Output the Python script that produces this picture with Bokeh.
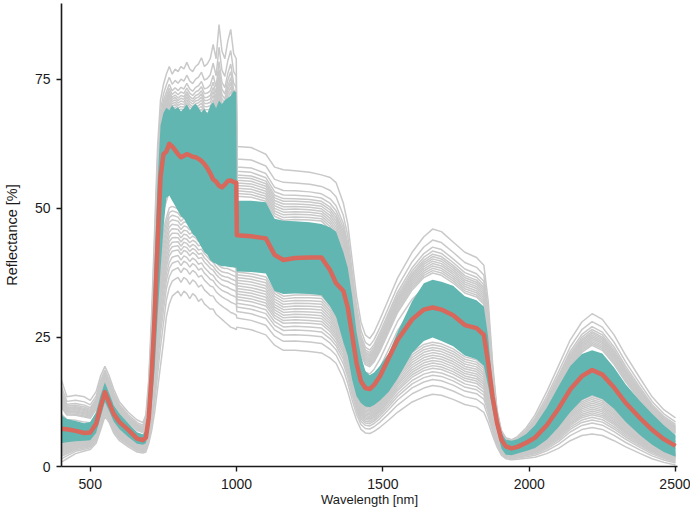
import numpy as np
from bokeh.plotting import figure
from bokeh.models import Range1d, FixedTicker
from bokeh.embed import file_html
from bokeh.resources import INLINE

# ---- data ----
wavelength = [
    400, 420, 450, 480, 500, 520, 535, 550, 565, 580, 600, 630, 660, 680, 690,
    700, 710, 720, 730, 740,
    750, 760, 770, 780, 790, 800, 810, 820, 830, 840, 850, 860, 870, 880, 890,
    900, 910, 920, 930, 940, 950, 960, 970, 980, 990, 999,
    1001, 1050, 1100, 1130, 1160, 1200, 1250, 1290, 1320, 1340,
    1365, 1380, 1395, 1410, 1425, 1440, 1455, 1470, 1490, 1520,
    1550, 1600, 1640, 1670, 1700, 1740, 1780, 1820, 1845, 1860,
    1875, 1890, 1905, 1920, 1940, 1960, 1990, 2020, 2060, 2100,
    2140, 2180, 2215, 2250, 2290, 2330, 2380, 2420, 2460, 2500,
]

# mean reflectance (red line)
mean_refl = [
    7.3, 7.2, 6.9, 6.5, 6.6, 8.3, 11.5, 14.4, 12.3, 10.2, 8.6, 7.1, 5.4, 5.1, 5.6,
    9.5, 18.0, 29.0, 43.0, 56.0,
    60.5, 61.0, 62.5, 62.0, 61.3, 60.5, 59.9, 60.2, 60.5, 60.3, 60.0, 59.9, 59.6, 59.2, 58.6,
    57.8, 56.8, 55.6, 55.2, 54.4, 54.1, 54.6, 55.3, 55.4, 55.1, 55.0,
    44.8, 44.6, 44.2, 41.0, 40.0, 40.4, 40.5, 40.5, 38.0, 35.5,
    34.0, 30.8, 25.5, 20.0, 16.5, 15.2, 15.0, 15.8, 17.5, 21.0,
    24.5, 28.5, 30.4, 30.8, 30.4, 29.3, 27.4, 26.8, 25.5, 20.0,
    13.5, 8.5, 5.2, 3.9, 3.5, 3.8, 4.6, 5.6, 8.0, 11.2,
    14.9, 17.5, 18.7, 17.8, 15.3, 12.3, 9.3, 7.1, 5.3, 4.0,
]

# mean + 1 sd (upper edge of teal band)
sd_upper = [
    10.0, 9.2, 8.8, 8.4, 8.6, 10.5, 13.8, 16.3, 14.2, 11.9, 10.2, 8.4, 6.6, 6.2, 7.0,
    13.0, 25.0, 40.0, 55.0, 66.0,
    68.5, 69.5, 69.0, 70.0, 69.2, 69.6, 68.8, 69.4, 70.2, 69.0, 69.8, 70.3, 69.5, 68.6, 69.3,
    68.4, 69.9, 70.6, 69.4, 70.9, 70.2, 71.0, 71.4, 71.8, 72.8, 72.5,
    51.5, 51.5, 51.2, 48.0, 47.6, 47.5, 47.3, 47.0, 46.3, 45.5,
    41.5, 38.5, 33.0, 26.0, 21.5, 18.5, 17.7, 18.2, 19.5, 22.0,
    26.0, 32.0, 35.5, 36.2, 35.8, 35.0, 33.0, 32.2, 31.0, 25.0,
    15.0, 9.5, 6.5, 5.2, 5.0, 5.3, 6.3, 8.0, 11.4, 15.5,
    19.4, 21.8, 22.5, 21.9, 19.2, 15.9, 12.6, 10.2, 8.0, 6.1,
]

# mean - 1 sd (lower edge of teal band)
sd_lower = [
    4.5, 4.7, 4.9, 5.0, 5.1, 6.5, 9.5, 12.5, 10.7, 8.7, 7.2, 5.7, 4.4, 4.2, 4.5,
    7.0, 12.0, 19.0, 29.0, 38.0,
    46.0, 52.0, 52.5, 51.5, 50.5, 49.5, 48.5, 48.0, 47.0, 46.0, 45.0, 44.5, 43.5, 42.5, 41.5,
    41.0, 40.0, 39.5, 39.3, 39.0, 38.8, 38.8, 38.7, 38.6, 38.6, 38.5,
    37.8, 37.7, 37.4, 34.0, 33.4, 33.5, 33.4, 33.2, 31.0, 29.0,
    24.0, 21.5, 16.8, 13.6, 12.3, 11.6, 11.5, 11.9, 12.8, 14.5,
    17.0, 22.0, 24.3, 25.0, 24.3, 23.3, 21.5, 20.8, 19.5, 15.5,
    11.0, 7.0, 3.5, 2.3, 2.2, 2.5, 3.0, 3.6, 5.2, 7.6,
    10.5, 12.9, 13.8, 13.1, 11.2, 8.6, 6.0, 4.2, 2.8, 1.9,
]

# highest individual spectrum (grey)
sample_max = [
    17.0, 13.5, 13.8, 13.5, 12.8, 14.5, 17.5, 19.4, 17.5, 15.0, 12.5, 10.5, 9.0, 8.5, 10.0,
    17.0, 30.0, 46.0, 62.0, 71.0,
    74.0, 76.0, 77.5, 76.0, 77.0, 76.5, 77.5, 77.0, 78.3, 77.0, 76.5, 77.5, 78.0, 79.2, 77.5,
    78.0, 79.0, 81.8, 79.0, 85.6, 80.5, 79.0, 82.4, 84.7, 80.0, 79.0,
    62.0, 61.8, 60.5, 58.0, 57.5, 57.3, 57.0, 56.5, 56.0, 55.0,
    51.0, 47.0, 40.0, 33.0, 28.0, 25.5, 24.8, 26.0, 28.5, 32.5,
    36.5, 41.5, 44.5, 46.0, 45.5, 43.5, 41.5, 40.5, 39.0, 32.0,
    20.0, 11.0, 7.0, 5.6, 5.2, 5.8, 7.5, 10.0, 14.5, 19.5,
    24.5, 28.0, 29.6, 28.5, 25.5, 21.5, 17.0, 13.5, 11.0, 9.4,
]

# lowest individual spectrum (grey)
sample_min = [
    0.8, 1.5, 2.5, 3.0, 3.3, 4.5, 7.0, 9.7, 8.5, 6.5, 5.0, 3.8, 2.8, 2.6, 2.8,
    4.5, 7.0, 10.5, 15.0, 19.5,
    24.0, 29.0, 31.5, 33.0, 33.5, 34.0, 33.0, 34.0, 33.5, 32.5, 33.5, 33.0, 32.0, 32.5, 31.5,
    31.0, 30.5, 30.5, 29.5, 29.0, 28.5, 28.0, 27.5, 27.0, 26.8, 26.5,
    27.0, 26.5, 25.5, 23.5, 22.5, 22.5, 22.3, 22.0, 21.0, 20.0,
    17.0, 14.5, 11.5, 9.0, 7.2, 6.5, 6.4, 6.8, 7.6, 9.0,
    10.5, 12.5, 13.5, 14.0, 13.8, 13.0, 12.0, 11.5, 10.5, 8.5,
    6.0, 3.8, 2.2, 1.5, 1.3, 1.4, 1.6, 1.8, 2.5, 3.5,
    5.0, 6.0, 6.3, 6.0, 5.0, 3.8, 2.5, 1.5, 0.8, 0.3,
]

# relative position of each grey spectrum between the mean and the extremes
sample_pos = [
    1.0, 0.86, 0.77, 0.72, 0.68, 0.65, 0.62, 0.59, 0.56, 0.53, 0.5, 0.47, 0.44,
    0.3, 0.15, 0.0, -0.15, -0.3,
    -0.4, -0.43, -0.46, -0.49, -0.52, -0.55, -0.58, -0.61, -0.64, -0.67, -0.7,
    -0.74, -0.78, -0.83, -0.9, -1.0,
]

x_ticks = [500, 1000, 1500, 2000, 2500]
y_ticks = [0, 25, 50, 75]

n = len(wavelength)
for arr in (mean_refl, sd_upper, sd_lower, sample_max, sample_min):
    assert len(arr) == n, len(arr)

wl = np.array(wavelength, dtype=float)
m = np.array(mean_refl)
hi = np.array(sample_max)
lo = np.array(sample_min)

xs, ys = [], []
for q in sample_pos:
    if q >= 0:
        y = m + q * (hi - m)
    else:
        y = m + q * (m - lo)
    xs.append(wl)
    ys.append(y)

p = figure(width=690, height=515,
           x_range=Range1d(401.7, 2506.8), y_range=Range1d(0, 89.7),
           output_backend="svg", toolbar_location=None,
           min_border_left=56, min_border_right=13,
           min_border_top=3, min_border_bottom=49)

p.multi_line(xs, ys, line_color="#c9c9c9", line_width=1.5)
p.varea(x=wl, y1=np.array(sd_lower), y2=np.array(sd_upper), fill_color="#62b6b1")
p.line(wl, m, line_color="#d8675c", line_width=4.5, line_join="round")

p.grid.visible = False
p.outline_line_color = None
p.background_fill_color = "white"
p.border_fill_color = "white"

p.xaxis.ticker = FixedTicker(ticks=x_ticks)
p.yaxis.ticker = FixedTicker(ticks=y_ticks)
p.xaxis.axis_label = "Wavelength [nm]"
p.yaxis.axis_label = "Reflectance [%]"
for ax in (p.xaxis, p.yaxis):
    ax.minor_tick_line_color = None
    ax.major_tick_in = 0
    ax.major_tick_out = 5
    ax.axis_line_width = 1.6
    ax.axis_line_color = "#1a1a1a"
    ax.major_tick_line_color = "#1a1a1a"
    ax.major_tick_line_width = 1.4
    ax.major_label_text_font = "Liberation Sans"
    ax.major_label_text_font_size = "14px"
    ax.major_label_text_color = "#1a1a1a"
    ax.axis_label_text_font = "Liberation Sans"
    ax.axis_label_text_font_style = "normal"
    ax.axis_label_text_color = "#1a1a1a"
p.xaxis.axis_label_text_font_size = "13px"
p.yaxis.axis_label_text_font_size = "14.5px"
p.xaxis.major_label_standoff = 7
p.xaxis.axis_label_standoff = 0
p.yaxis.major_label_standoff = 6
p.yaxis.axis_label_standoff = 12

open("out.html", "w").write(file_html(p, INLINE))
